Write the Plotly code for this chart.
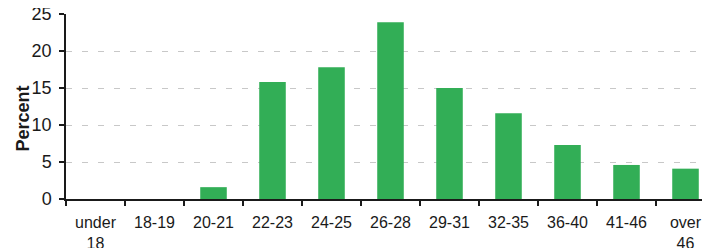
import plotly.graph_objects as go

categories = ["under<br>18", "18-19", "20-21", "22-23", "24-25", "26-28",
              "29-31", "32-35", "36-40", "41-46", "over<br>46"]
percent = [0, 0, 1.6, 15.8, 17.8, 23.9, 15.0, 11.6, 7.3, 4.6, 4.1]
y_ticks = [0, 5, 10, 15, 20, 25]

# page body has an 8px margin, so the figure is sized to fit the 710x248 view
W, H = 702, 240
L, T, B = 58, 6, 49

fig = go.Figure(go.Bar(
    x=categories, y=percent,
    marker=dict(color="#32ae56", line=dict(width=0)),
    width=0.45,
))

fig.update_layout(
    width=W, height=H,
    margin=dict(l=L, r=0, t=T, b=B, pad=0),
    paper_bgcolor="white", plot_bgcolor="white",
    font=dict(family="Liberation Sans, Arial, sans-serif", color="#1a1a1a"),
    showlegend=False,
    xaxis=dict(
        type="category",
        range=[-0.5, 10.5 - 5/59],
        tickson="boundaries",
        ticks="outside", ticklen=5, tickcolor="#1a1a1a", tickwidth=1.5,
        showline=True, linecolor="#1a1a1a", linewidth=1.5,
        showgrid=False,
        tickfont=dict(size=16),
        tickangle=0,
        ticklabelstandoff=8,
        ticklabeloverflow="allow",
        automargin=False,
    ),
    yaxis=dict(
        range=[0, 25],
        tickvals=y_ticks,
        ticks="outside", ticklen=5, tickcolor="#1a1a1a", tickwidth=1.5,
        showline=True, linecolor="#1a1a1a", linewidth=1.5,
        showgrid=True, gridcolor="#c8c8c8", gridwidth=1, griddash="6px,10px",
        zeroline=False,
        tickfont=dict(size=18),
        ticklabelstandoff=4,
        ticklabeloverflow="allow",
        automargin=False,
    ),
    annotations=[dict(
        text="<b>Percent</b>", textangle=-90,
        xref="paper", yref="paper",
        x=(22 - 66) / 644, y=(199 - 118.5) / 185,
        xanchor="center", yanchor="middle",
        showarrow=False, font=dict(size=18, color="#1a1a1a"),
    )],
)

fig.write_html("out.html")
